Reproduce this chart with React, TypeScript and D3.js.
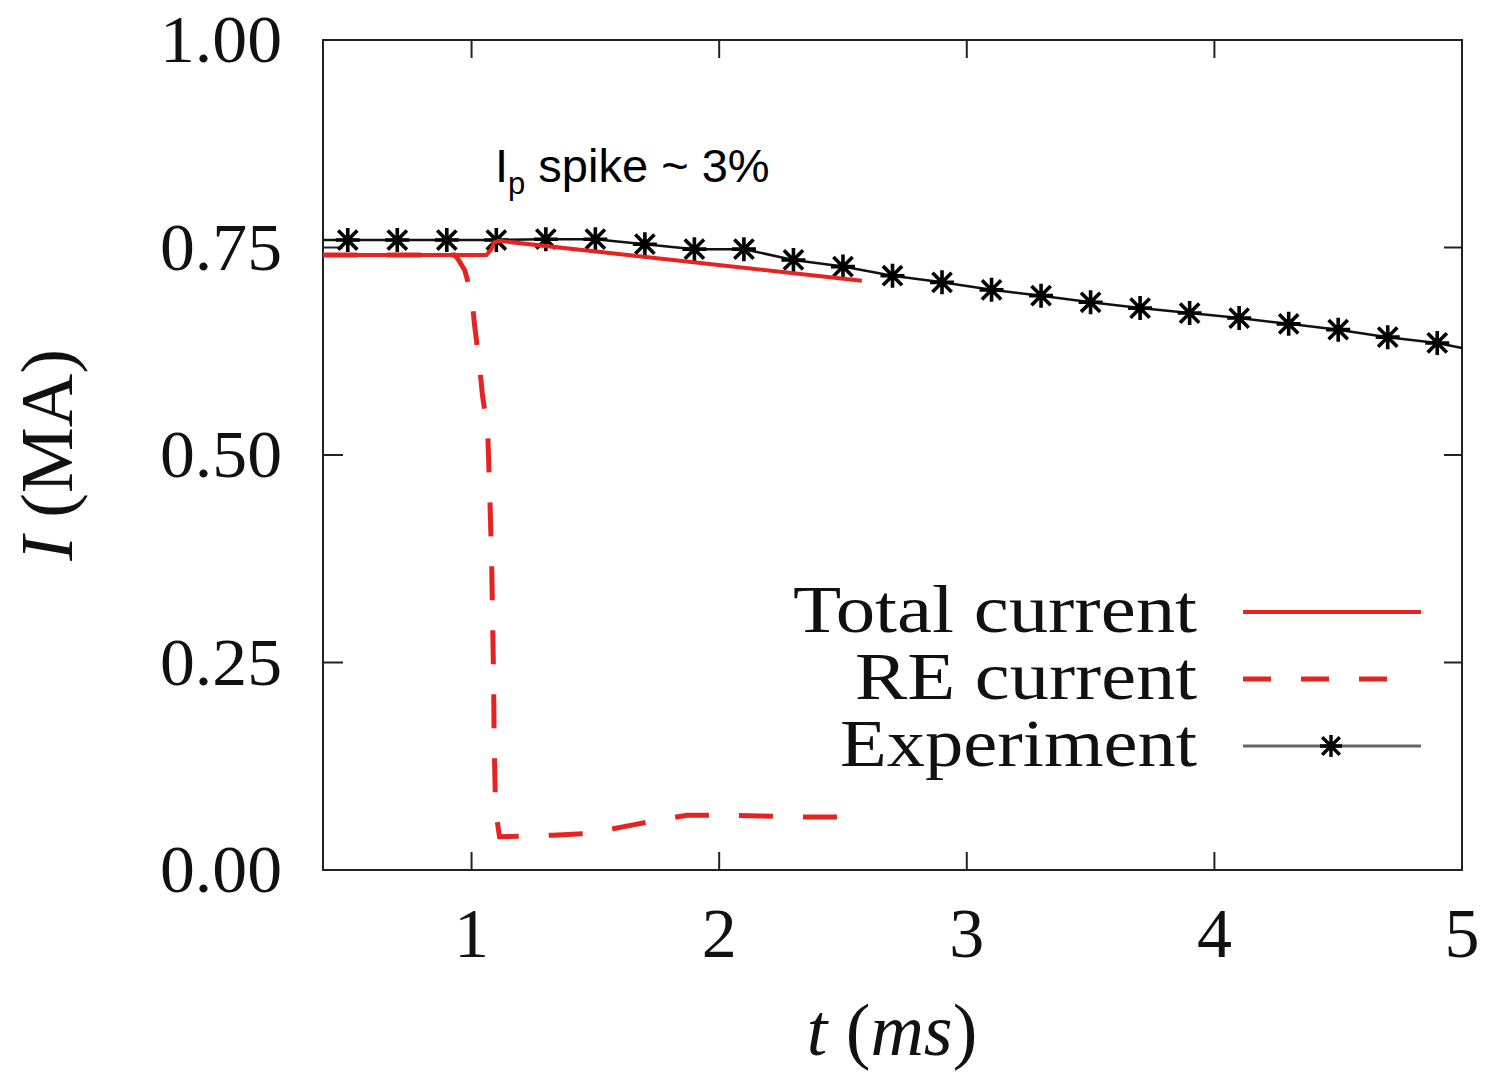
import * as d3 from "d3";

// experiment markers (t in ms, I in MA)
const expT = [0.5, 0.7, 0.9, 1.1, 1.3, 1.5, 1.7, 1.9, 2.1, 2.3, 2.5, 2.7, 2.9, 3.1, 3.3, 3.5, 3.7, 3.9, 4.1, 4.3, 4.5, 4.7, 4.9];
const expI = [0.759, 0.759, 0.759, 0.759, 0.76, 0.76, 0.754, 0.748, 0.748, 0.735, 0.727, 0.716, 0.708, 0.699, 0.692, 0.684, 0.677, 0.671, 0.665, 0.658, 0.651, 0.642, 0.635];
// the measured trace runs past the first and last markers
const expLineT = [0.4, ...expT, 5.0];
const expLineI = [0.759, ...expI, 0.629];

const totalT = [0.4, 1.06, 1.08, 1.09, 1.11, 2.576];
const totalI = [0.741, 0.741, 0.748, 0.756, 0.758, 0.71];

const reT = [0.4, 0.931, 0.943, 0.972, 1.0, 1.012, 1.032, 1.044, 1.065, 1.073, 1.081, 1.085, 1.089, 1.091, 1.097, 1.113, 1.33, 1.48, 1.61, 1.75, 1.87, 2.03, 2.17, 2.33, 2.576];
const reI = [0.741, 0.741, 0.737, 0.723, 0.693, 0.657, 0.608, 0.572, 0.53, 0.458, 0.373, 0.301, 0.229, 0.157, 0.072, 0.04, 0.042, 0.044, 0.052, 0.06, 0.066, 0.066, 0.065, 0.064, 0.064];

const xTicks = [1, 2, 3, 4, 5];
const yTicks = [0, 0.25, 0.5, 0.75, 1];
const yTickLabels = ["0.00", "0.25", "0.50", "0.75", "1.00"];

const legendItems = ["Total current", "RE current", "Experiment"];

const W = 1488;
const H = 1073;
const pad = { top: 40, right: 26, bottom: 203, left: 323 };
const red = "#e52421";
const serif = "'Liberation Serif', 'Times New Roman', serif";
const sans = "'Liberation Sans', Arial, sans-serif";

function star(cx: number, cy: number, s = 12) {
  const d = s * 0.8;
  return `M${cx - s},${cy}H${cx + s}M${cx},${cy - s}V${cy + s}M${cx - d},${cy - d}L${cx + d},${cy + d}M${cx - d},${cy + d}L${cx + d},${cy - d}`;
}

export default function App() {
  const x = d3.scaleLinear().domain([0.4, 5]).range([pad.left, W - pad.right]);
  const y = d3.scaleLinear().domain([0, 1]).range([H - pad.bottom, pad.top]);

  const line = d3
    .line<[number, number]>()
    .x((d) => x(d[0]))
    .y((d) => y(d[1]));

  const expPath = line(expLineT.map((t, i) => [t, expLineI[i]]));
  const totalPath = line(totalT.map((t, i) => [t, totalI[i]]));
  const rePath = line(reT.map((t, i) => [t, reI[i]]));

  const x0 = x.range()[0];
  const x1 = x.range()[1];
  const y0 = y.range()[0];
  const y1 = y.range()[1];
  const tickLen = 18;

  const legX = 1197;
  const legRows = [612, 679, 746];
  const legWidths = [404, 342, 357];

  return (
    <div style={{ position: "absolute", left: 0, top: 0 }}>
      <svg width={W} height={H} style={{ display: "block", background: "#fff" }}>
        {/* frame */}
        <rect x={x0} y={y1} width={x1 - x0} height={y0 - y1} fill="none" stroke="#222" strokeWidth={2} />

        {/* inner ticks */}
        {xTicks.filter((t) => t < 5).map((t) => (
          <g key={"xt" + t} stroke="#222" strokeWidth={2}>
            <line x1={x(t)} x2={x(t)} y1={y0} y2={y0 - tickLen} />
            <line x1={x(t)} x2={x(t)} y1={y1} y2={y1 + tickLen} />
          </g>
        ))}
        {yTicks.filter((t) => t > 0 && t < 1).map((t) => (
          <g key={"yt" + t} stroke="#222" strokeWidth={2}>
            <line x1={x0} x2={x0 + tickLen + 2} y1={y(t)} y2={y(t)} />
            <line x1={x1} x2={x1 - tickLen} y1={y(t)} y2={y(t)} />
          </g>
        ))}

        {/* tick labels */}
        {xTicks.map((t) => (
          <text key={"xl" + t} x={x(t)} y={957} fontFamily={serif} fontSize={70} textAnchor="middle" fill="#111">
            {t}
          </text>
        ))}
        {yTicks.map((t, i) => (
          <text key={"yl" + t} x={282} y={y(t) + 22} fontFamily={serif} fontSize={68} textAnchor="end" fill="#111" textLength={122} lengthAdjust="spacingAndGlyphs">
            {yTickLabels[i]}
          </text>
        ))}

        {/* axis titles */}
        <text x={892} y={1055} fontFamily={serif} fontSize={74} textAnchor="middle" fill="#111">
          <tspan fontStyle="italic">t</tspan>
          <tspan> (</tspan>
          <tspan fontStyle="italic">ms</tspan>
          <tspan>)</tspan>
        </text>
        <text transform={`translate(72,${y(0.5)}) rotate(-90)`} fontFamily={serif} fontSize={74} textAnchor="middle" fill="#111">
          <tspan fontStyle="italic">I</tspan>
          <tspan> (MA)</tspan>
        </text>

        {/* data */}
        <path d={expPath ?? ""} fill="none" stroke="#111" strokeWidth={2.5} />
        {expT.map((t, i) => (
          <path key={"m" + i} d={star(x(t), y(expI[i]))} stroke="#000" strokeWidth={3.6} fill="none" />
        ))}
        <path d={rePath ?? ""} fill="none" stroke={red} strokeWidth={5} strokeDasharray="34 30" />
        <path d={totalPath ?? ""} fill="none" stroke={red} strokeWidth={4} />

        {/* annotation */}
        <text x={495} y={182} fontFamily={sans} fontSize={47} fill="#000">
          <tspan>I</tspan>
          <tspan fontSize={31} dy={12}>p</tspan>
          <tspan dy={-12}> spike ~ 3%</tspan>
        </text>

        {/* legend */}
        {legendItems.map((name, i) => (
          <text key={name} x={legX} y={legRows[i] + 20} fontFamily={serif} fontSize={68} textAnchor="end" fill="#111" textLength={legWidths[i]} lengthAdjust="spacingAndGlyphs">
            {name}
          </text>
        ))}
        <line x1={1243} x2={1421} y1={legRows[0]} y2={legRows[0]} stroke={red} strokeWidth={4} />
        <line x1={1243} x2={1392} y1={legRows[1]} y2={legRows[1]} stroke={red} strokeWidth={5} strokeDasharray="28 30" />
        <line x1={1243} x2={1421} y1={legRows[2]} y2={legRows[2]} stroke="#666" strokeWidth={3} />
        <path d={star(1331, legRows[2], 11)} stroke="#000" strokeWidth={3.4} fill="none" />
      </svg>
    </div>
  );
}
